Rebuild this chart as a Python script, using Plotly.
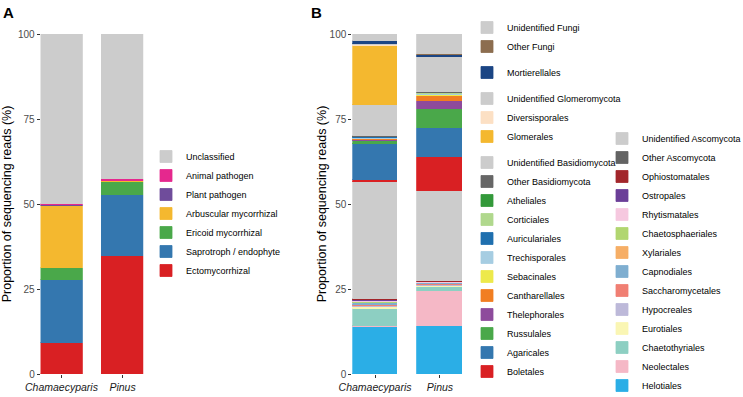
import plotly.graph_objects as go

samples = ["Chamaecyparis", "Pinus"]

# ---------- Panel A: functional guilds (stacking order bottom -> top) ----------
guild_names = ["Ectomycorrhizal", "Saprotroph / endophyte", "Ericoid mycorrhizal",
               "Arbuscular mycorrhizal", "Plant pathogen", "Animal pathogen", "Unclassified"]
guild_cham = [9.2, 18.4, 3.6, 18.2, 0.3, 0.4, 49.9]
guild_pinus = [34.8, 17.8, 4.0, 0.1, 0.1, 0.5, 42.7]
guild_colors = ["#D92023", "#3477AF", "#4AA84A", "#F4B82F", "#6F4C9B", "#E5288E", "#CCCCCC"]

# ---------- Panel B: orders (stacking order bottom -> top) ----------
order_names = [
    "Helotiales", "Neolectales", "Chaetothyriales", "Eurotiales", "Hypocreales",
    "Saccharomycetales", "Capnodiales", "Xylariales", "Chaetosphaeriales", "Rhytismatales",
    "Ostropales", "Ophiostomatales", "Other Ascomycota", "Unidentified Ascomycota",
    "Boletales", "Agaricales", "Russulales", "Thelephorales", "Cantharellales",
    "Sebacinales", "Trechisporales", "Auriculariales", "Corticiales", "Atheliales",
    "Other Basidiomycota", "Unidentified Basidiomycota",
    "Glomerales", "Diversisporales", "Unidentified Glomeromycota",
    "Mortierellales", "Other Fungi", "Unidentified Fungi",
]
order_cham = [
    13.9, 0.1, 5.0, 0.6, 0.5,
    0.2, 0.5, 0.2, 0.1, 0.4,
    0.2, 0.3, 0.2, 34.3,
    0.7, 10.5, 0.9, 0.1, 0.3,
    0.2, 0.3, 0.1, 0.1, 0.1,
    0.1, 9.2,
    17.5, 0.2, 0.2,
    0.8, 0.1, 2.1,
]
order_pinus = [
    14.2, 10.3, 1.2, 0.3, 0.1,
    0.5, 0.1, 0.1, 0.1, 0.3,
    0.0, 0.2, 0.1, 26.2,
    10.0, 8.8, 5.4, 2.5, 1.5,
    0.1, 0.4, 0.1, 0.1, 0.1,
    0.1, 10.3,
    0.1, 0.0, 0.1,
    0.6, 0.1, 6.0,
]
order_phylum = (["Ascomycota"] * 14 + ["Basidiomycota"] * 12 + ["Glomeromycota"] * 3
                + ["Mortierellomycota"] + ["Fungi"] * 2)
order_colors = [
    "#2BAEE6", "#F5B8C6", "#8DCFC2", "#FAF6B4", "#BDB9D9",
    "#F07F73", "#7FAED0", "#F6AE66", "#B1D670", "#F6C8DF",
    "#6B3F98", "#A2262B", "#636363", "#CCCCCC",
    "#D92023", "#3477AF", "#4AA84A", "#8E4B9C", "#F17E22",
    "#EDE94B", "#A6CDE2", "#1F6FAE", "#B0D88D", "#33993A",
    "#666666", "#CCCCCC",
    "#F4B82F", "#FCE0C4", "#CCCCCC",
    "#1B4584", "#8C6D4F", "#CCCCCC",
]

FONT = "Arial, Liberation Sans, sans-serif"
fig = go.Figure()

n_a = len(guild_names)
for i, name in enumerate(guild_names):
    fig.add_trace(go.Bar(
        x=samples, y=[guild_cham[i], guild_pinus[i]], name=name,
        marker=dict(color=guild_colors[i], line=dict(width=0.8, color=guild_colors[i])),
        width=0.68, xaxis="x", yaxis="y", legend="legend",
        legendrank=100 + (n_a - i), hoverinfo="name+y",
    ))

n_b = len(order_names)
for i, name in enumerate(order_names):
    phylum = order_phylum[i]
    leg = "legend3" if phylum == "Ascomycota" else "legend2"
    grp = "Fungi1" if name in ("Unidentified Fungi", "Other Fungi") else phylum
    fig.add_trace(go.Bar(
        x=samples, y=[order_cham[i], order_pinus[i]], name=name,
        marker=dict(color=order_colors[i], line=dict(width=0.8, color=order_colors[i])),
        width=0.70, xaxis="x2", yaxis="y2", legend=leg, legendgroup=grp,
        legendrank=100 + (n_b - i), hoverinfo="name+y",
    ))

W, H = 743, 397
y_dom = [(H - 374) / H, (H - 34) / H]

axis_common = dict(
    showgrid=False, zeroline=False, showline=False,
    ticks="outside", ticklen=3, tickwidth=1, tickcolor="#333333",
    tickfont=dict(family=FONT, size=10, color="#4D4D4D"),
)
xtick_font = dict(family=FONT, size=10.5, color="#1a1a1a", style="italic")
ytitle_font = dict(family=FONT, size=12.5, color="#000000")

fig.update_layout(
    width=W, height=H,
    margin=dict(l=0, r=0, t=0, b=0, autoexpand=False),
    paper_bgcolor="white", plot_bgcolor="white",
    barmode="stack", bargap=0,
    font=dict(family=FONT, size=10, color="#000000"),
    xaxis=dict(domain=[40.7 / W, 143.3 / W], range=[-0.34, 1.34], type="category",
               **{**axis_common, "tickfont": xtick_font}),
    yaxis=dict(domain=y_dom, range=[0, 100], tickvals=[0, 25, 50, 75, 100],
               title=dict(text="Proportion of sequencing reads (%)", font=ytitle_font, standoff=3),
               **axis_common),
    xaxis2=dict(domain=[352.3 / W, 462.7 / W], range=[-0.35, 1.35], type="category", anchor="y2",
                **{**axis_common, "tickfont": xtick_font}),
    yaxis2=dict(domain=y_dom, range=[0, 100], tickvals=[0, 25, 50, 75, 100], anchor="x2",
                title=dict(text="Proportion of sequencing reads (%)", font=ytitle_font, standoff=0),
                **axis_common),
    legend=dict(x=146 / W, y=(H - 142) / H, xanchor="left", yanchor="top",
                traceorder="normal", font=dict(family=FONT, size=9, color="#000000"),
                bgcolor="rgba(0,0,0,0)", itemclick=False, itemdoubleclick=False),
    legend2=dict(x=467 / W, y=(H - 13) / H, xanchor="left", yanchor="top",
                 traceorder="grouped", tracegroupgap=7,
                 font=dict(family=FONT, size=9, color="#000000"),
                 bgcolor="rgba(0,0,0,0)", itemclick=False, itemdoubleclick=False),
    legend3=dict(x=602 / W, y=(H - 124) / H, xanchor="left", yanchor="top",
                 traceorder="grouped", font=dict(family=FONT, size=9, color="#000000"),
                 bgcolor="rgba(0,0,0,0)", itemclick=False, itemdoubleclick=False),
    annotations=[
        dict(text="<b>A</b>", x=1 / W, y=(H - 2) / H, xref="paper", yref="paper",
             xanchor="left", yanchor="top", showarrow=False, font=dict(family=FONT, size=15, color="#000000")),
        dict(text="<b>B</b>", x=309 / W, y=(H - 2) / H, xref="paper", yref="paper",
             xanchor="left", yanchor="top", showarrow=False, font=dict(family=FONT, size=15, color="#000000")),
    ],
)

fig.write_html("out.html", config={"displayModeBar": False},
               post_script="document.body.style.margin='0px';")
